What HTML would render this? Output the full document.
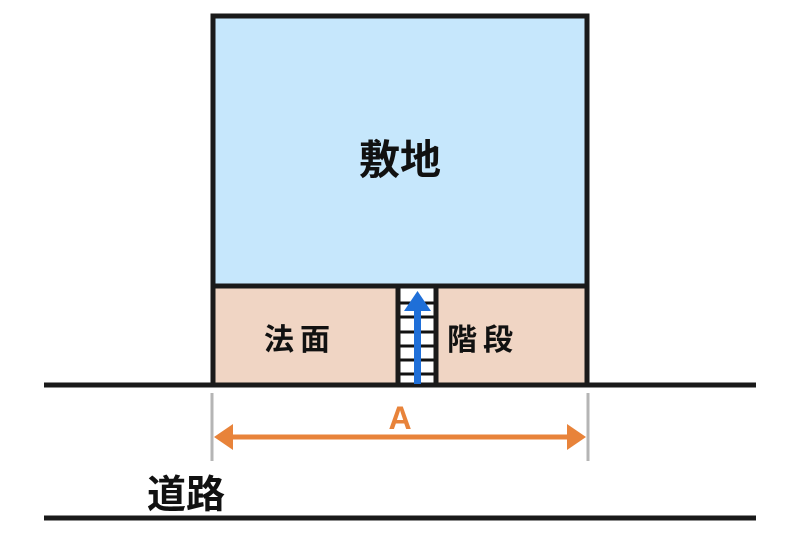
<!DOCTYPE html>
<html><head><meta charset="utf-8"><style>body{margin:0;background:#fff}</style></head><body>
<svg width="800" height="534" viewBox="0 0 800 534" xmlns="http://www.w3.org/2000/svg" style="display:block">
<rect x="213" y="16" width="374" height="270" fill="#c6e7fc"/>
<rect x="213" y="286" width="374" height="99" fill="#f0d5c4"/>
<rect x="398" y="288" width="38" height="96" fill="#fff"/>
<g stroke="#111" stroke-width="3">
<line x1="398" y1="303" x2="436" y2="303"/><line x1="398" y1="317" x2="436" y2="317"/>
<line x1="398" y1="332" x2="436" y2="332"/><line x1="398" y1="346" x2="436" y2="346"/>
<line x1="398" y1="360" x2="436" y2="360"/><line x1="398" y1="374" x2="436" y2="374"/>
</g>
<g stroke="#1a1a1a" stroke-width="5" fill="none">
<rect x="213" y="16" width="374" height="369"/>
<line x1="213" y1="286" x2="587" y2="286"/>
<line x1="398" y1="286" x2="398" y2="385"/>
<line x1="436" y1="286" x2="436" y2="385"/>
<line x1="44" y1="385" x2="756" y2="385"/>
<line x1="44" y1="518" x2="756" y2="518"/>
</g>
<rect x="414" y="308" width="7" height="76" fill="#1f6fd8"/>
<polygon points="417.5,291 404,311 431,311" fill="#1f6fd8"/>
<g stroke="#b5b5b5" stroke-width="3"><line x1="212" y1="393" x2="212" y2="461"/><line x1="588" y1="393" x2="588" y2="461"/></g>
<line x1="228" y1="437" x2="572" y2="437" stroke="#e8833a" stroke-width="5"/>
<polygon points="214,437 233,424 233,450" fill="#e8833a"/>
<polygon points="586,437 567,424 567,450" fill="#e8833a"/>
<g font-family="Liberation Sans, Noto Sans CJK JP, sans-serif" font-weight="bold" text-anchor="middle">
<text x="400" y="429" font-size="32" fill="#e8833a">A</text>
<text x="400" y="174" font-size="41" fill="#111">敷地</text>
<text x="300" y="350" font-size="30" fill="#111" letter-spacing="6">法面</text>
<text x="483" y="350" font-size="30" fill="#111" letter-spacing="6">階段</text>
<text x="186" y="508" font-size="39" fill="#111">道路</text>
</g>
</svg>
</body></html>
